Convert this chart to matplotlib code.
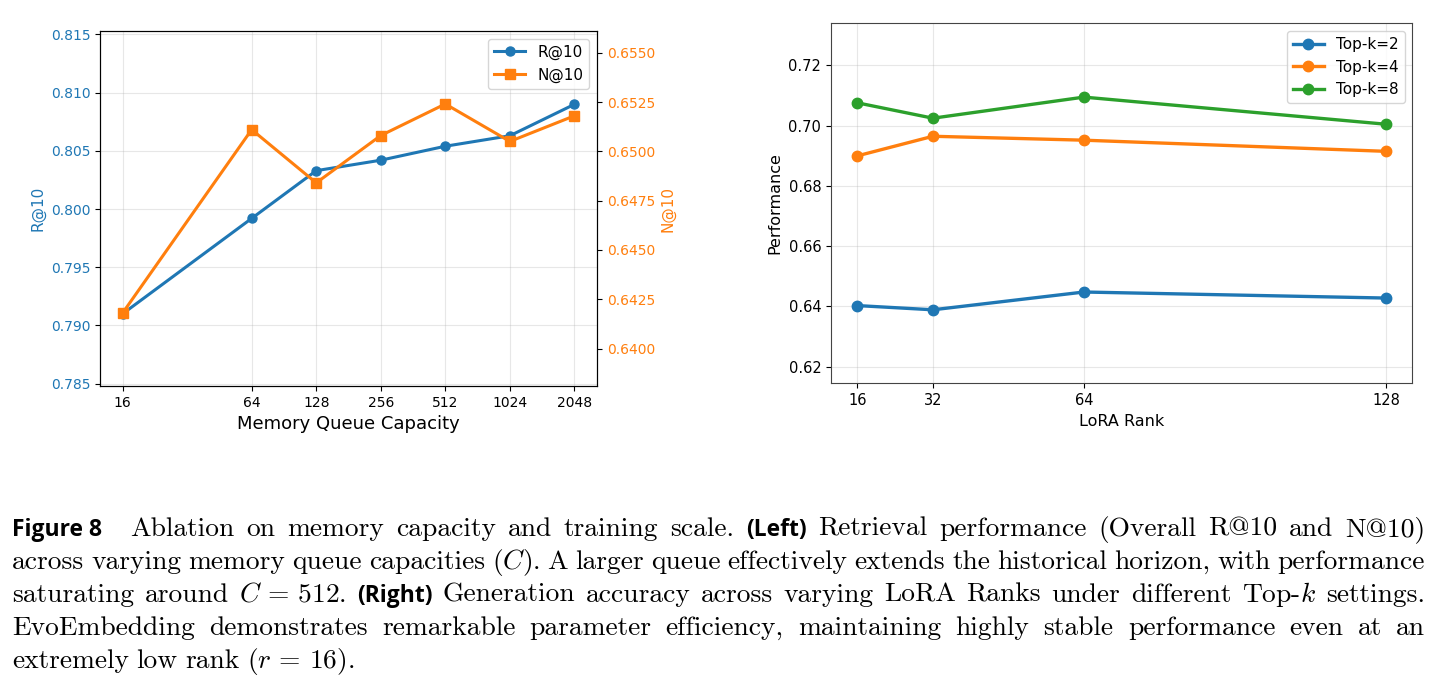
import numpy as np
import matplotlib
matplotlib.use("Agg")
import matplotlib.pyplot as plt

plt.rcParams['mathtext.fontset'] = 'cm'

# left panel: memory queue capacity
capacity = [16, 64, 128, 256, 512, 1024, 2048]
r10 = [0.7910, 0.7992, 0.8033, 0.8042, 0.8054, 0.8063, 0.8090]
n10 = [0.6418, 0.6511, 0.6484, 0.6508, 0.6524, 0.6505, 0.6518]

# right panel: LoRA rank
ranks = [16, 32, 64, 128]
topk2 = [0.6403, 0.6389, 0.6448, 0.6428]
topk4 = [0.6900, 0.6965, 0.6952, 0.6915]
topk8 = [0.7076, 0.7025, 0.7095, 0.7005]

W, H = 1447, 688
fig = plt.figure(figsize=(W / 100, H / 100), dpi=100)

# ---- left chart
ax1 = fig.add_axes([100 / W, 1 - 386 / H, 497 / W, 355 / H])
ax2 = ax1.twinx()
l1, = ax1.plot(capacity, r10, '-o', color='tab:blue', lw=2.2, ms=6.5, label='R@10')
l2, = ax2.plot(capacity, n10, '-s', color='tab:orange', lw=2.2, ms=6.5, label='N@10')
ax1.set_xscale('log', base=2)
ax1.set_xticks(capacity)
ax1.set_xticklabels([str(c) for c in capacity])
ax1.minorticks_off()
ax1.set_ylim(0.7848, 0.8153)
ax1.set_yticks(np.arange(0.785, 0.8151, 0.005))
ax1.set_yticklabels([f'{v:.3f}' for v in np.arange(0.785, 0.8151, 0.005)])
ax2.set_ylim(0.6381, 0.6561)
ax2.set_yticks(np.arange(0.64, 0.6551, 0.0025))
ax2.set_yticklabels([f'{v:.4f}' for v in np.arange(0.64, 0.6551, 0.0025)])
ax1.tick_params(axis='y', labelcolor='tab:blue', labelsize=10)
ax1.tick_params(axis='x', labelsize=10)
ax2.tick_params(axis='y', labelcolor='tab:orange', labelsize=10)
ax1.set_xlabel('Memory Queue Capacity', fontsize=13)
ax1.set_ylabel('R@10', color='tab:blue', fontsize=11)
ax2.set_ylabel('N@10', color='tab:orange', fontsize=11)
ax1.grid(True, alpha=0.3)
ax2.legend([l1, l2], ['R@10', 'N@10'], loc='upper right', fontsize=11)

# ---- right chart
ax3 = fig.add_axes([831 / W, 1 - 383.3 / H, 581.3 / W, 360 / H])
ax3.plot(ranks, topk2, '-o', color='tab:blue', lw=2.4, ms=7.5, label='Top-k=2')
ax3.plot(ranks, topk4, '-o', color='tab:orange', lw=2.4, ms=7.5, label='Top-k=4')
ax3.plot(ranks, topk8, '-o', color='tab:green', lw=2.4, ms=7.5, label='Top-k=8')
ax3.set_xticks(ranks)
ax3.set_ylim(0.6145, 0.734)
ax3.set_yticks([0.62, 0.64, 0.66, 0.68, 0.70, 0.72])
ax3.tick_params(labelsize=10.5)
ax3.set_xlabel('LoRA Rank', fontsize=11.5)
ax3.set_ylabel('Performance', fontsize=11.5)
ax3.grid(True, alpha=0.3)
for s in ax3.spines.values():
    s.set_color('#444444')
ax3.legend(loc='upper right', fontsize=11)

# ---- caption, justified like the LaTeX source
lines = [
    [('Figure 8',), 'Ablation', 'on', 'memory', 'capacity', 'and', 'training', 'scale.',
     ('(Left)',), 'Retrieval', 'performance', '(Overall', 'R@10', 'and', 'N@10)'],
    ['across', 'varying', 'memory', 'queue', 'capacities', r'$(C)$.', 'A', 'larger', 'queue',
     'effectively', 'extends', 'the', 'historical', 'horizon,', 'with', 'performance'],
    ['saturating', 'around', r'$C\,=\,512$.', ('(Right)',), 'Generation', 'accuracy', 'across',
     'varying', 'LoRA', 'Ranks', 'under', 'different', r'Top-$k$', 'settings.'],
    ['EvoEmbedding', 'demonstrates', 'remarkable', 'parameter', 'efficiency,', 'maintaining',
     'highly', 'stable', 'performance', 'even', 'at', 'an'],
    ['extremely', 'low', 'rank', r'$(r\,=\,16)$.'],
]
baselines = [536, 569, 602, 635, 668]
x_left, x_right = 12, 1425
cap_fs = 19.8

renderer = fig.canvas.get_renderer()
for i, (words, yb) in enumerate(zip(lines, baselines)):
    arts = []
    for w in words:
        if isinstance(w, tuple):
            t = fig.text(0, 1 - yb / H, w[0], fontfamily='Open Sans', fontweight='bold',
                         fontsize=16.5, va='baseline')
        else:
            t = fig.text(0, 1 - yb / H, w, fontfamily='cmr10', fontsize=cap_fs, va='baseline')
        arts.append(t)
    widths = [a.get_window_extent(renderer).width for a in arts]
    weights = [1.0] * (len(arts) - 1)
    if isinstance(words[0], tuple):
        weights[0] = 2.4
    if i < len(lines) - 1:
        gap = (x_right - x_left - sum(widths)) / sum(weights)
    else:
        gap = 7.5
    x = x_left
    for j, (a, wd) in enumerate(zip(arts, widths)):
        a.set_x(x / W)
        if j < len(weights):
            x += wd + gap * weights[j]

fig.savefig('out.png', dpi=100)
